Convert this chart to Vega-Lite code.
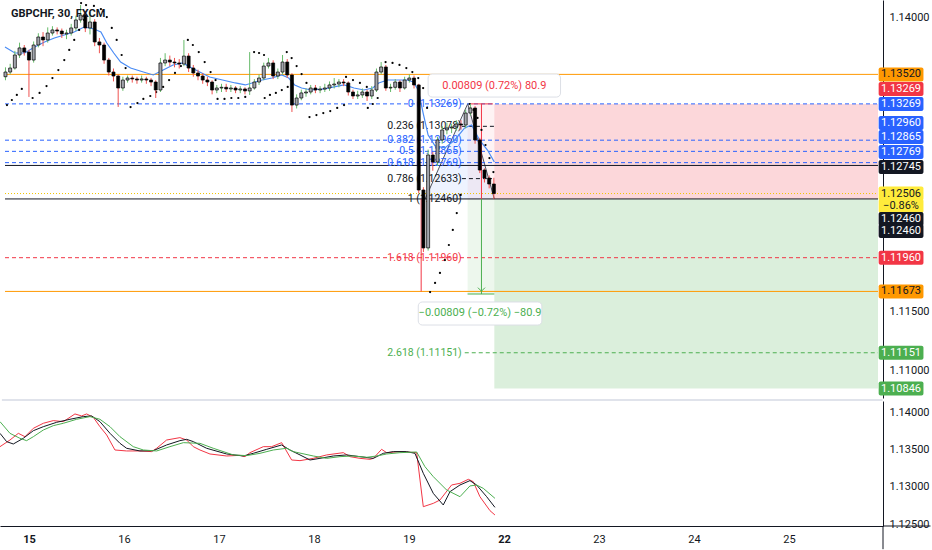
{
"$schema":"https://vega.github.io/schema/vega-lite/v6.json",
"padding":0,
"background":"white",
"bounds":"flush",
"spacing":3,
"config":{"view":{"stroke":null},"font":"Roboto",
 "axis":{"grid":false,"ticks":false,"labelFontSize":11,"labelColor":"#131722","domainColor":"#131722","labelFlush":false,"labelOverlap":false,"title":null},
 "axisY":{"labelPadding":6,"labelAlign":"left"},
 "axisX":{"labelPadding":7}},
"datasets":{
"candles":[
{"t":-0.30,"o":1.13500,"h":1.13580,"l":1.13470,"c":1.13540},
{"t":-0.25,"o":1.13540,"h":1.13610,"l":1.13520,"c":1.13574},
{"t":-0.20,"o":1.13574,"h":1.13720,"l":1.13560,"c":1.13685},
{"t":-0.15,"o":1.13685,"h":1.13790,"l":1.13660,"c":1.13745},
{"t":-0.10,"o":1.13745,"h":1.13770,"l":1.13680,"c":1.13710},
{"t":-0.05,"o":1.13710,"h":1.13730,"l":1.13328,"c":1.13642},
{"t":0.00,"o":1.13642,"h":1.13800,"l":1.13620,"c":1.13770},
{"t":0.05,"o":1.13770,"h":1.13870,"l":1.13750,"c":1.13838},
{"t":0.10,"o":1.13838,"h":1.13880,"l":1.13760,"c":1.13813},
{"t":0.15,"o":1.13813,"h":1.13920,"l":1.13790,"c":1.13872},
{"t":0.20,"o":1.13872,"h":1.13930,"l":1.13850,"c":1.13898},
{"t":0.25,"o":1.13898,"h":1.13920,"l":1.13860,"c":1.13889},
{"t":0.30,"o":1.13889,"h":1.13910,"l":1.13830,"c":1.13864},
{"t":0.35,"o":1.13864,"h":1.13900,"l":1.13820,"c":1.13872},
{"t":0.40,"o":1.13872,"h":1.13950,"l":1.13850,"c":1.13915},
{"t":0.45,"o":1.13915,"h":1.14020,"l":1.13890,"c":1.13983},
{"t":0.50,"o":1.13983,"h":1.14110,"l":1.13960,"c":1.14025},
{"t":0.55,"o":1.14025,"h":1.14060,"l":1.13880,"c":1.13915},
{"t":0.60,"o":1.13915,"h":1.14051,"l":1.13860,"c":1.13966},
{"t":0.65,"o":1.13966,"h":1.13990,"l":1.13760,"c":1.13796},
{"t":0.70,"o":1.13796,"h":1.13830,"l":1.13700,"c":1.13770},
{"t":0.75,"o":1.13770,"h":1.13790,"l":1.13610,"c":1.13642},
{"t":0.80,"o":1.13642,"h":1.13660,"l":1.13510,"c":1.13540},
{"t":0.85,"o":1.13540,"h":1.13570,"l":1.13460,"c":1.13506},
{"t":0.90,"o":1.13506,"h":1.13520,"l":1.13243,"c":1.13404},
{"t":0.95,"o":1.13404,"h":1.13500,"l":1.13380,"c":1.13472},
{"t":1.00,"o":1.13472,"h":1.13510,"l":1.13450,"c":1.13489},
{"t":1.05,"o":1.13489,"h":1.13510,"l":1.13450,"c":1.13481},
{"t":1.10,"o":1.13481,"h":1.13500,"l":1.13440,"c":1.13472},
{"t":1.15,"o":1.13472,"h":1.13510,"l":1.13450,"c":1.13481},
{"t":1.20,"o":1.13481,"h":1.13500,"l":1.13440,"c":1.13472},
{"t":1.25,"o":1.13472,"h":1.13490,"l":1.13420,"c":1.13455},
{"t":1.30,"o":1.13455,"h":1.13470,"l":1.13319,"c":1.13387},
{"t":1.35,"o":1.13387,"h":1.13660,"l":1.13370,"c":1.13617},
{"t":1.40,"o":1.13617,"h":1.13700,"l":1.13590,"c":1.13642},
{"t":1.45,"o":1.13642,"h":1.13680,"l":1.13590,"c":1.13625},
{"t":1.50,"o":1.13625,"h":1.13660,"l":1.13580,"c":1.13617},
{"t":1.55,"o":1.13617,"h":1.13650,"l":1.13570,"c":1.13608},
{"t":1.60,"o":1.13608,"h":1.13813,"l":1.13590,"c":1.13676},
{"t":1.65,"o":1.13676,"h":1.13700,"l":1.13540,"c":1.13574},
{"t":1.70,"o":1.13574,"h":1.13600,"l":1.13500,"c":1.13532},
{"t":1.75,"o":1.13532,"h":1.13560,"l":1.13470,"c":1.13506},
{"t":1.80,"o":1.13506,"h":1.13530,"l":1.13440,"c":1.13472},
{"t":1.85,"o":1.13472,"h":1.13500,"l":1.13420,"c":1.13455},
{"t":1.90,"o":1.13455,"h":1.13470,"l":1.13350,"c":1.13387},
{"t":1.95,"o":1.13387,"h":1.13430,"l":1.13360,"c":1.13404},
{"t":2.00,"o":1.13404,"h":1.13440,"l":1.13370,"c":1.13410},
{"t":2.05,"o":1.13410,"h":1.13440,"l":1.13370,"c":1.13396},
{"t":2.10,"o":1.13396,"h":1.13430,"l":1.13370,"c":1.13404},
{"t":2.15,"o":1.13404,"h":1.13420,"l":1.13360,"c":1.13387},
{"t":2.20,"o":1.13387,"h":1.13420,"l":1.13360,"c":1.13396},
{"t":2.25,"o":1.13396,"h":1.13410,"l":1.13350,"c":1.13379},
{"t":2.30,"o":1.13379,"h":1.13710,"l":1.13345,"c":1.13404},
{"t":2.35,"o":1.13404,"h":1.13480,"l":1.13390,"c":1.13455},
{"t":2.40,"o":1.13455,"h":1.13520,"l":1.13430,"c":1.13489},
{"t":2.45,"o":1.13489,"h":1.13620,"l":1.13470,"c":1.13591},
{"t":2.50,"o":1.13591,"h":1.13660,"l":1.13570,"c":1.13617},
{"t":2.55,"o":1.13617,"h":1.13640,"l":1.13480,"c":1.13506},
{"t":2.60,"o":1.13506,"h":1.13570,"l":1.13480,"c":1.13540},
{"t":2.65,"o":1.13540,"h":1.13685,"l":1.13520,"c":1.13625},
{"t":2.70,"o":1.13625,"h":1.13650,"l":1.13490,"c":1.13515},
{"t":2.75,"o":1.13515,"h":1.13530,"l":1.13200,"c":1.13259},
{"t":2.80,"o":1.13259,"h":1.13350,"l":1.13230,"c":1.13319},
{"t":2.85,"o":1.13319,"h":1.13390,"l":1.13300,"c":1.13362},
{"t":2.90,"o":1.13362,"h":1.13400,"l":1.13330,"c":1.13370},
{"t":2.95,"o":1.13370,"h":1.13430,"l":1.13350,"c":1.13404},
{"t":3.00,"o":1.13404,"h":1.13430,"l":1.13360,"c":1.13387},
{"t":3.05,"o":1.13387,"h":1.13420,"l":1.13360,"c":1.13395},
{"t":3.10,"o":1.13395,"h":1.13440,"l":1.13370,"c":1.13404},
{"t":3.15,"o":1.13404,"h":1.13460,"l":1.13380,"c":1.13430},
{"t":3.20,"o":1.13430,"h":1.13489,"l":1.13400,"c":1.13438},
{"t":3.25,"o":1.13438,"h":1.13480,"l":1.13410,"c":1.13455},
{"t":3.30,"o":1.13455,"h":1.13480,"l":1.13420,"c":1.13447},
{"t":3.35,"o":1.13447,"h":1.13460,"l":1.13340,"c":1.13370},
{"t":3.40,"o":1.13370,"h":1.13390,"l":1.13310,"c":1.13336},
{"t":3.45,"o":1.13336,"h":1.13380,"l":1.13310,"c":1.13345},
{"t":3.50,"o":1.13345,"h":1.13400,"l":1.13320,"c":1.13370},
{"t":3.55,"o":1.13370,"h":1.13390,"l":1.13294,"c":1.13336},
{"t":3.60,"o":1.13336,"h":1.13420,"l":1.13310,"c":1.13387},
{"t":3.65,"o":1.13387,"h":1.13570,"l":1.13370,"c":1.13540},
{"t":3.70,"o":1.13540,"h":1.13625,"l":1.13520,"c":1.13583},
{"t":3.75,"o":1.13583,"h":1.13600,"l":1.13380,"c":1.13404},
{"t":3.80,"o":1.13404,"h":1.13440,"l":1.13370,"c":1.13410},
{"t":3.85,"o":1.13410,"h":1.13480,"l":1.13390,"c":1.13455},
{"t":3.90,"o":1.13455,"h":1.13470,"l":1.13370,"c":1.13404},
{"t":3.95,"o":1.13404,"h":1.13500,"l":1.13390,"c":1.13472},
{"t":4.00,"o":1.13472,"h":1.13520,"l":1.13450,"c":1.13489},
{"t":4.05,"o":1.13489,"h":1.13510,"l":1.13400,"c":1.13430},
{"t":4.10,"o":1.13430,"h":1.13440,"l":1.12510,"c":1.12536},
{"t":4.15,"o":1.12536,"h":1.12560,"l":1.12008,"c":1.12043},
{"t":4.20,"o":1.12043,"h":1.12880,"l":1.12020,"c":1.12834},
{"t":4.25,"o":1.12834,"h":1.12860,"l":1.12700,"c":1.12774},
{"t":4.30,"o":1.12774,"h":1.12990,"l":1.12740,"c":1.12962},
{"t":4.35,"o":1.12962,"h":1.13080,"l":1.12930,"c":1.13047},
{"t":4.40,"o":1.13047,"h":1.13110,"l":1.13010,"c":1.13064},
{"t":4.45,"o":1.13064,"h":1.13100,"l":1.13020,"c":1.13072},
{"t":4.50,"o":1.13072,"h":1.13130,"l":1.13040,"c":1.13098},
{"t":4.55,"o":1.13098,"h":1.13130,"l":1.13050,"c":1.13089},
{"t":4.60,"o":1.13089,"h":1.13220,"l":1.13060,"c":1.13191},
{"t":4.65,"o":1.13191,"h":1.13269,"l":1.13170,"c":1.13234},
{"t":4.70,"o":1.13234,"h":1.13250,"l":1.12930,"c":1.12962},
{"t":4.75,"o":1.12962,"h":1.12980,"l":1.12680,"c":1.12706},
{"t":4.80,"o":1.12706,"h":1.12720,"l":1.12600,"c":1.12638},
{"t":4.85,"o":1.12638,"h":1.12660,"l":1.12550,"c":1.12587},
{"t":4.90,"o":1.12587,"h":1.12640,"l":1.12460,"c":1.12506}
],
"ma":[
{"t":-0.305,"p":1.13753},{"t":-0.20,"p":1.13702},{"t":-0.095,"p":1.13702},{"t":0.011,"p":1.13753},{"t":0.116,"p":1.13796},{"t":0.221,"p":1.13830},{"t":0.326,"p":1.13855},{"t":0.432,"p":1.13881},{"t":0.537,"p":1.13923},{"t":0.642,"p":1.13906},{"t":0.716,"p":1.13881},{"t":0.779,"p":1.13787},{"t":0.853,"p":1.13702},{"t":0.926,"p":1.13625},{"t":1.032,"p":1.13574},{"t":1.168,"p":1.13540},{"t":1.274,"p":1.13515},{"t":1.379,"p":1.13557},{"t":1.484,"p":1.13600},{"t":1.589,"p":1.13617},{"t":1.663,"p":1.13583},{"t":1.768,"p":1.13540},{"t":1.874,"p":1.13498},{"t":2.011,"p":1.13472},{"t":2.147,"p":1.13447},{"t":2.253,"p":1.13430},{"t":2.326,"p":1.13447},{"t":2.432,"p":1.13472},{"t":2.537,"p":1.13489},{"t":2.642,"p":1.13515},{"t":2.716,"p":1.13489},{"t":2.779,"p":1.13430},{"t":2.853,"p":1.13404},{"t":2.958,"p":1.13387},{"t":3.095,"p":1.13396},{"t":3.200,"p":1.13413},{"t":3.305,"p":1.13430},{"t":3.411,"p":1.13404},{"t":3.516,"p":1.13387},{"t":3.611,"p":1.13404},{"t":3.674,"p":1.13447},{"t":3.768,"p":1.13472},{"t":3.874,"p":1.13472},{"t":3.979,"p":1.13472},{"t":4.042,"p":1.13455},{"t":4.095,"p":1.13387},{"t":4.147,"p":1.13191},{"t":4.200,"p":1.13004},{"t":4.274,"p":1.12911},{"t":4.379,"p":1.12894},{"t":4.484,"p":1.12962},{"t":4.589,"p":1.13064},{"t":4.663,"p":1.13089},{"t":4.747,"p":1.12962},{"t":4.832,"p":1.12876},{"t":4.905,"p":1.12774}
],
"sar":[
{"t":-0.284,"p":1.13259},{"t":-0.232,"p":1.13302},{"t":-0.179,"p":1.13345},{"t":-0.126,"p":1.13396},
{"t":-0.011,"p":1.13319},{"t":0.063,"p":1.13362},{"t":0.137,"p":1.13421},{"t":0.200,"p":1.13489},{"t":0.263,"p":1.13557},{"t":0.326,"p":1.13642},{"t":0.379,"p":1.13728},{"t":0.432,"p":1.13813},{"t":0.484,"p":1.13898},{"t":0.537,"p":1.13983},
{"t":0.505,"p":1.14127},{"t":0.558,"p":1.14110},{"t":0.642,"p":1.14102},{"t":0.716,"p":1.14076},{"t":0.779,"p":1.14008},{"t":0.832,"p":1.13915},{"t":0.884,"p":1.13813},{"t":0.937,"p":1.13685},{"t":0.979,"p":1.13574},
{"t":1.032,"p":1.13242},{"t":1.105,"p":1.13276},{"t":1.168,"p":1.13311},{"t":1.242,"p":1.13336},{"t":1.305,"p":1.13370},{"t":1.379,"p":1.13413},{"t":1.442,"p":1.13472},{"t":1.505,"p":1.13532},{"t":1.568,"p":1.13591},
{"t":1.642,"p":1.13813},{"t":1.695,"p":1.13770},{"t":1.758,"p":1.13710},{"t":1.821,"p":1.13625},{"t":1.884,"p":1.13540},{"t":1.937,"p":1.13472},
{"t":1.958,"p":1.13311},{"t":2.032,"p":1.13311},{"t":2.105,"p":1.13319},{"t":2.179,"p":1.13319},{"t":2.253,"p":1.13328},
{"t":2.347,"p":1.13710},{"t":2.400,"p":1.13702},{"t":2.453,"p":1.13685},
{"t":2.460,"p":1.13319},{"t":2.516,"p":1.13345},{"t":2.579,"p":1.13362},{"t":2.642,"p":1.13387},{"t":2.705,"p":1.13413},
{"t":2.695,"p":1.13710},{"t":2.747,"p":1.13659},{"t":2.800,"p":1.13591},{"t":2.853,"p":1.13523},{"t":2.905,"p":1.13447},
{"t":2.937,"p":1.13157},{"t":3.011,"p":1.13174},{"t":3.084,"p":1.13191},{"t":3.158,"p":1.13208},{"t":3.232,"p":1.13234},{"t":3.305,"p":1.13259},
{"t":3.326,"p":1.13498},{"t":3.400,"p":1.13472},{"t":3.474,"p":1.13447},{"t":3.547,"p":1.13413},
{"t":3.558,"p":1.13234},{"t":3.611,"p":1.13268},{"t":3.663,"p":1.13319},
{"t":3.747,"p":1.13625},{"t":3.821,"p":1.13617},{"t":3.895,"p":1.13600},{"t":3.968,"p":1.13574},{"t":4.032,"p":1.13540},{"t":4.095,"p":1.13489},{"t":4.147,"p":1.13404},{"t":4.189,"p":1.13234},
{"t":4.221,"p":1.11668},{"t":4.274,"p":1.11745},{"t":4.326,"p":1.11830},{"t":4.379,"p":1.11940},{"t":4.421,"p":1.12068},{"t":4.463,"p":1.12196},{"t":4.505,"p":1.12340},{"t":4.547,"p":1.12494},
{"t":4.642,"p":1.13268},{"t":4.684,"p":1.13217},{"t":4.726,"p":1.13149},{"t":4.768,"p":1.13047},{"t":4.811,"p":1.12919},{"t":4.853,"p":1.12808},{"t":4.895,"p":1.12689}
],
"levels":[
{"p":1.13520,"t0":-0.305,"t1":8.99,"kind":"orange"},
{"p":1.11673,"t0":-0.305,"t1":8.99,"kind":"orange"},
{"p":1.12745,"t0":-0.305,"t1":8.99,"kind":"black"},
{"p":1.12460,"t0":-0.305,"t1":8.99,"kind":"black"},
{"p":1.13269,"t0":-0.305,"t1":8.99,"kind":"blue"},
{"p":1.12960,"t0":-0.305,"t1":8.99,"kind":"blue"},
{"p":1.12865,"t0":-0.305,"t1":8.99,"kind":"blue"},
{"p":1.12769,"t0":-0.305,"t1":8.99,"kind":"blue"},
{"p":1.11960,"t0":-0.305,"t1":8.99,"kind":"red"},
{"p":1.12506,"t0":-0.305,"t1":8.99,"kind":"yellow"},
{"p":1.11151,"t0":4.59,"t1":8.99,"kind":"green"},
{"p":1.13078,"t0":4.56,"t1":4.93,"kind":"fibk"},
{"p":1.12633,"t0":4.56,"t1":4.88,"kind":"fibk"}
],
"fibs":[
{"p":1.13269,"txt":"0 (1.13269)","kind":"blue"},
{"p":1.13078,"txt":"0.236 (1.13078)","kind":"black"},
{"p":1.12960,"txt":"0.382 (1.12960)","kind":"blue"},
{"p":1.12865,"txt":"0.5 (1.12865)","kind":"blue"},
{"p":1.12769,"txt":"0.618 (1.12769)","kind":"blue"},
{"p":1.12633,"txt":"0.786 (1.12633)","kind":"black"},
{"p":1.12460,"txt":"1 (1.12460)","kind":"black"},
{"p":1.11960,"txt":"1.618 (1.11960)","kind":"red"},
{"p":1.11151,"txt":"2.618 (1.11151)","kind":"green"}
],
"zones":[
{"t1":4.905,"t2":8.99,"p1":1.1246,"p2":1.13269,"kind":"loss"},
{"t1":4.905,"t2":8.99,"p1":1.10846,"p2":1.1246,"kind":"profit"},
{"t1":4.621,"t2":4.905,"p1":1.1246,"p2":1.13269,"kind":"mloss"},
{"t1":4.621,"t2":4.905,"p1":1.11651,"p2":1.1246,"kind":"mprofit"}
],
"pattern":[{"t":4.168,"p":1.1246},{"t":4.621,"p":1.13269},{"t":4.905,"p":1.1246}],
"measure":[
{"t0":4.768,"t1":4.768,"p0":1.1246,"p1":1.13269,"kind":"red"},
{"t0":4.768,"t1":4.768,"p0":1.11651,"p1":1.1246,"kind":"green"},
{"t0":4.126,"t1":4.126,"p0":1.11673,"p1":1.1246,"kind":"red"},
{"t0":4.64,"t1":4.89,"p0":1.13269,"p1":1.13269,"kind":"red"},
{"t0":4.62,"t1":4.905,"p0":1.11651,"p1":1.11651,"kind":"green"}
],
"notes":[
{"t1":4.2,"t2":5.61,"p1":1.13523,"p2":1.13327,"tx":4.905,"py":1.13421,"txt":"0.00809 (0.72%) 80.9","kind":"red"},
{"t1":4.095,"t2":5.411,"p1":1.11583,"p2":1.11387,"tx":4.753,"py":1.11489,"txt":"−0.00809 (−0.72%) −80.9","kind":"green"}
],
"tags":[
{"txt":"1.13520","at":1.13520,"kind":"orange"},
{"txt":"1.13269","at":1.13396,"kind":"red"},
{"txt":"1.13269","at":1.13269,"kind":"blue"},
{"txt":"1.12960","at":1.13106,"kind":"blue"},
{"txt":"1.12865","at":1.12987,"kind":"blue"},
{"txt":"1.12769","at":1.12859,"kind":"blue"},
{"txt":"1.12745","at":1.12732,"kind":"black"},
{"txt":"1.12506","at":1.12506,"kind":"yellow"},
{"txt":"−0.86%","at":1.12400,"kind":"yellow"},
{"txt":"1.12460","at":1.12289,"kind":"black"},
{"txt":"1.12460","at":1.12187,"kind":"black"},
{"txt":"1.11960","at":1.11960,"kind":"red"},
{"txt":"1.11673","at":1.11673,"kind":"orange"},
{"txt":"1.11151","at":1.11151,"kind":"green"},
{"txt":"1.10846","at":1.10846,"kind":"green"}
],
"title":[{"txt":"GBPCHF, 30, FXCM"}],
"one":[{"a":0}],
"osc":[
{"t":-0.305,"v":1.13545,"s":"fast"},{"t":-0.200,"v":1.13635,"s":"fast"},{"t":-0.112,"v":1.13725,"s":"fast"},{"t":-0.042,"v":1.13680,"s":"fast"},{"t":0.046,"v":1.13793,"s":"fast"},{"t":0.151,"v":1.13861,"s":"fast"},{"t":0.256,"v":1.13897,"s":"fast"},{"t":0.362,"v":1.13883,"s":"fast"},{"t":0.484,"v":1.13987,"s":"fast"},{"t":0.554,"v":1.13960,"s":"fast"},{"t":0.607,"v":1.13987,"s":"fast"},{"t":0.677,"v":1.13942,"s":"fast"},{"t":0.747,"v":1.13815,"s":"fast"},{"t":0.818,"v":1.13703,"s":"fast"},{"t":0.905,"v":1.13500,"s":"fast"},{"t":1.028,"v":1.13487,"s":"fast"},{"t":1.168,"v":1.13487,"s":"fast"},{"t":1.291,"v":1.13478,"s":"fast"},{"t":1.344,"v":1.13523,"s":"fast"},{"t":1.449,"v":1.13635,"s":"fast"},{"t":1.589,"v":1.13667,"s":"fast"},{"t":1.660,"v":1.13635,"s":"fast"},{"t":1.730,"v":1.13545,"s":"fast"},{"t":1.800,"v":1.13500,"s":"fast"},{"t":1.905,"v":1.13446,"s":"fast"},{"t":2.081,"v":1.13419,"s":"fast"},{"t":2.221,"v":1.13428,"s":"fast"},{"t":2.274,"v":1.13410,"s":"fast"},{"t":2.326,"v":1.13464,"s":"fast"},{"t":2.467,"v":1.13545,"s":"fast"},{"t":2.554,"v":1.13545,"s":"fast"},{"t":2.660,"v":1.13599,"s":"fast"},{"t":2.765,"v":1.13365,"s":"fast"},{"t":2.853,"v":1.13356,"s":"fast"},{"t":2.993,"v":1.13387,"s":"fast"},{"t":3.133,"v":1.13433,"s":"fast"},{"t":3.309,"v":1.13464,"s":"fast"},{"t":3.379,"v":1.13410,"s":"fast"},{"t":3.484,"v":1.13387,"s":"fast"},{"t":3.590,"v":1.13374,"s":"fast"},{"t":3.625,"v":1.13387,"s":"fast"},{"t":3.712,"v":1.13509,"s":"fast"},{"t":3.765,"v":1.13464,"s":"fast"},{"t":3.905,"v":1.13478,"s":"fast"},{"t":4.081,"v":1.13464,"s":"fast"},{"t":4.151,"v":1.12734,"s":"fast"},{"t":4.256,"v":1.12779,"s":"fast"},{"t":4.326,"v":1.12824,"s":"fast"},{"t":4.449,"v":1.13027,"s":"fast"},{"t":4.537,"v":1.13050,"s":"fast"},{"t":4.625,"v":1.13104,"s":"fast"},{"t":4.677,"v":1.13072,"s":"fast"},{"t":4.747,"v":1.12869,"s":"fast"},{"t":4.853,"v":1.12680,"s":"fast"},{"t":4.905,"v":1.12622,"s":"fast"},
{"t":-0.305,"v":1.13725,"s":"mid"},{"t":-0.235,"v":1.13613,"s":"mid"},{"t":-0.165,"v":1.13581,"s":"mid"},{"t":-0.060,"v":1.13658,"s":"mid"},{"t":0.046,"v":1.13761,"s":"mid"},{"t":0.151,"v":1.13815,"s":"mid"},{"t":0.291,"v":1.13874,"s":"mid"},{"t":0.432,"v":1.13915,"s":"mid"},{"t":0.572,"v":1.13951,"s":"mid"},{"t":0.660,"v":1.13960,"s":"mid"},{"t":0.747,"v":1.13883,"s":"mid"},{"t":0.853,"v":1.13725,"s":"mid"},{"t":0.958,"v":1.13590,"s":"mid"},{"t":1.028,"v":1.13523,"s":"mid"},{"t":1.168,"v":1.13487,"s":"mid"},{"t":1.309,"v":1.13491,"s":"mid"},{"t":1.449,"v":1.13568,"s":"mid"},{"t":1.589,"v":1.13626,"s":"mid"},{"t":1.660,"v":1.13644,"s":"mid"},{"t":1.730,"v":1.13613,"s":"mid"},{"t":1.870,"v":1.13523,"s":"mid"},{"t":2.081,"v":1.13446,"s":"mid"},{"t":2.256,"v":1.13419,"s":"mid"},{"t":2.361,"v":1.13455,"s":"mid"},{"t":2.502,"v":1.13509,"s":"mid"},{"t":2.660,"v":1.13568,"s":"mid"},{"t":2.747,"v":1.13500,"s":"mid"},{"t":2.853,"v":1.13433,"s":"mid"},{"t":2.958,"v":1.13365,"s":"mid"},{"t":3.063,"v":1.13387,"s":"mid"},{"t":3.204,"v":1.13419,"s":"mid"},{"t":3.344,"v":1.13433,"s":"mid"},{"t":3.484,"v":1.13410,"s":"mid"},{"t":3.625,"v":1.13387,"s":"mid"},{"t":3.730,"v":1.13455,"s":"mid"},{"t":3.835,"v":1.13478,"s":"mid"},{"t":3.975,"v":1.13478,"s":"mid"},{"t":4.063,"v":1.13455,"s":"mid"},{"t":4.151,"v":1.13185,"s":"mid"},{"t":4.256,"v":1.12914,"s":"mid"},{"t":4.361,"v":1.12757,"s":"mid"},{"t":4.432,"v":1.12937,"s":"mid"},{"t":4.537,"v":1.13027,"s":"mid"},{"t":4.642,"v":1.13086,"s":"mid"},{"t":4.712,"v":1.13027,"s":"mid"},{"t":4.818,"v":1.12869,"s":"mid"},{"t":4.905,"v":1.12725,"s":"mid"},
{"t":-0.305,"v":1.13883,"s":"slow"},{"t":-0.200,"v":1.13725,"s":"slow"},{"t":-0.095,"v":1.13658,"s":"slow"},{"t":-0.025,"v":1.13626,"s":"slow"},{"t":0.046,"v":1.13680,"s":"slow"},{"t":0.151,"v":1.13770,"s":"slow"},{"t":0.256,"v":1.13829,"s":"slow"},{"t":0.362,"v":1.13861,"s":"slow"},{"t":0.502,"v":1.13915,"s":"slow"},{"t":0.642,"v":1.13951,"s":"slow"},{"t":0.747,"v":1.13915,"s":"slow"},{"t":0.853,"v":1.13815,"s":"slow"},{"t":0.958,"v":1.13680,"s":"slow"},{"t":1.098,"v":1.13545,"s":"slow"},{"t":1.204,"v":1.13500,"s":"slow"},{"t":1.344,"v":1.13487,"s":"slow"},{"t":1.484,"v":1.13545,"s":"slow"},{"t":1.625,"v":1.13599,"s":"slow"},{"t":1.800,"v":1.13590,"s":"slow"},{"t":1.940,"v":1.13523,"s":"slow"},{"t":2.151,"v":1.13433,"s":"slow"},{"t":2.291,"v":1.13424,"s":"slow"},{"t":2.432,"v":1.13455,"s":"slow"},{"t":2.572,"v":1.13500,"s":"slow"},{"t":2.712,"v":1.13523,"s":"slow"},{"t":2.782,"v":1.13478,"s":"slow"},{"t":2.993,"v":1.13419,"s":"slow"},{"t":3.133,"v":1.13387,"s":"slow"},{"t":3.274,"v":1.13410,"s":"slow"},{"t":3.414,"v":1.13419,"s":"slow"},{"t":3.554,"v":1.13401,"s":"slow"},{"t":3.660,"v":1.13419,"s":"slow"},{"t":3.765,"v":1.13446,"s":"slow"},{"t":3.905,"v":1.13464,"s":"slow"},{"t":4.081,"v":1.13473,"s":"slow"},{"t":4.168,"v":1.13275,"s":"slow"},{"t":4.256,"v":1.13140,"s":"slow"},{"t":4.396,"v":1.12960,"s":"slow"},{"t":4.537,"v":1.12869,"s":"slow"},{"t":4.642,"v":1.13014,"s":"slow"},{"t":4.712,"v":1.13027,"s":"slow"},{"t":4.782,"v":1.12982,"s":"slow"},{"t":4.905,"v":1.12847,"s":"slow"}
]
},
"vconcat":[
{
"width":883,"height":398,
"resolve":{"scale":{"color":"independent","strokeDash":"independent"}},
"layer":[
{"data":{"name":"zones"},"mark":{"type":"rect","clip":true},
 "encoding":{
  "x":{"field":"t1","type":"quantitative","scale":{"domain":[-0.305,8.99],"nice":false,"zero":false},"axis":null},
  "x2":{"field":"t2"},
  "y":{"field":"p1","type":"quantitative","scale":{"domain":[1.10766,1.14153],"nice":false,"zero":false},"axis":{"orient":"right","values":[1.14,1.115,1.11],"format":".5f"}},
  "y2":{"field":"p2"},
  "color":{"field":"kind","type":"nominal","legend":null,"scale":{"domain":["loss","profit","mloss","mprofit"],"range":["rgba(242,54,69,0.2)","rgba(76,175,80,0.2)","rgba(242,54,69,0.06)","rgba(76,175,80,0.1)"]}}
 }},
{"data":{"name":"pattern"},"mark":{"type":"area","color":"rgba(41,98,255,0.08)","clip":true},
 "encoding":{
  "x":{"field":"t","type":"quantitative","scale":{"domain":[-0.305,8.99],"nice":false,"zero":false},"axis":null},
  "y":{"field":"p","type":"quantitative","scale":{"domain":[1.10766,1.14153],"nice":false,"zero":false},"axis":{"orient":"right","values":[1.14,1.115,1.11],"format":".5f"}},
  "y2":{"datum":1.1246}
 }},
{"data":{"name":"pattern"},"mark":{"type":"line","color":"#50535e","strokeWidth":1,"clip":true},
 "encoding":{
  "x":{"field":"t","type":"quantitative","scale":{"domain":[-0.305,8.99],"nice":false,"zero":false},"axis":null},
  "y":{"field":"p","type":"quantitative","scale":{"domain":[1.10766,1.14153],"nice":false,"zero":false},"axis":{"orient":"right","values":[1.14,1.115,1.11],"format":".5f"}}
 }},
{"data":{"name":"levels"},"mark":{"type":"rule","clip":true,"strokeWidth":1},
 "encoding":{
  "x":{"field":"t0","type":"quantitative","scale":{"domain":[-0.305,8.99],"nice":false,"zero":false},"axis":null},
  "x2":{"field":"t1"},
  "y":{"field":"p","type":"quantitative","scale":{"domain":[1.10766,1.14153],"nice":false,"zero":false},"axis":{"orient":"right","values":[1.14,1.115,1.11],"format":".5f"}},
  "color":{"field":"kind","type":"nominal","legend":null,"scale":{"domain":["orange","black","blue","red","yellow","green","fibk"],"range":["#ff9800","#131722","#2962ff","#f23645","#f2c500","#4caf50","#131722"]}},
  "strokeDash":{"field":"kind","type":"nominal","legend":null,"scale":{"domain":["orange","black","blue","red","yellow","green","fibk"],"range":[[1,0],[1,0],[4,3],[4,3],[1,2],[4,3],[4,3]]}}
 }},
{"data":{"name":"fibs"},"mark":{"type":"text","align":"right","baseline":"middle","fontSize":10.5},
 "encoding":{
  "x":{"datum":4.558,"type":"quantitative","scale":{"domain":[-0.305,8.99],"nice":false,"zero":false},"axis":null},
  "y":{"field":"p","type":"quantitative","scale":{"domain":[1.10766,1.14153],"nice":false,"zero":false},"axis":{"orient":"right","values":[1.14,1.115,1.11],"format":".5f"}},
  "text":{"field":"txt"},
  "color":{"field":"kind","type":"nominal","legend":null,"scale":{"domain":["blue","black","red","green"],"range":["#2962ff","#131722","#f23645","#4caf50"]}}
 }},
{"data":{"name":"measure"},"mark":{"type":"rule","clip":true,"strokeWidth":1},
 "encoding":{
  "x":{"field":"t0","type":"quantitative","scale":{"domain":[-0.305,8.99],"nice":false,"zero":false},"axis":null},
  "x2":{"field":"t1"},
  "y":{"field":"p0","type":"quantitative","scale":{"domain":[1.10766,1.14153],"nice":false,"zero":false},"axis":{"orient":"right","values":[1.14,1.115,1.11],"format":".5f"}},
  "y2":{"field":"p1"},
  "color":{"field":"kind","type":"nominal","legend":null,"scale":{"domain":["red","green"],"range":["#f23645","#4caf50"]}}
 }},
{"data":{"values":[{"t":4.768,"p":1.11690}]},"mark":{"type":"point","shape":"M-1,-0.5L0,0.5L1,-0.5","size":50,"filled":false,"stroke":"#4caf50","strokeWidth":1,"opacity":1},
 "encoding":{
  "x":{"field":"t","type":"quantitative","scale":{"domain":[-0.305,8.99],"nice":false,"zero":false},"axis":null},
  "y":{"field":"p","type":"quantitative","scale":{"domain":[1.10766,1.14153],"nice":false,"zero":false},"axis":{"orient":"right","values":[1.14,1.115,1.11],"format":".5f"}}
 }},
{"data":{"name":"ma"},"mark":{"type":"line","color":"#4a8cf5","strokeWidth":1.2,"clip":true},
 "encoding":{
  "x":{"field":"t","type":"quantitative","scale":{"domain":[-0.305,8.99],"nice":false,"zero":false},"axis":null},
  "y":{"field":"p","type":"quantitative","scale":{"domain":[1.10766,1.14153],"nice":false,"zero":false},"axis":{"orient":"right","values":[1.14,1.115,1.11],"format":".5f"}}
 }},
{"data":{"name":"sar"},"mark":{"type":"circle","size":5,"color":"#000000","opacity":1,"clip":true},
 "encoding":{
  "x":{"field":"t","type":"quantitative","scale":{"domain":[-0.305,8.99],"nice":false,"zero":false},"axis":null},
  "y":{"field":"p","type":"quantitative","scale":{"domain":[1.10766,1.14153],"nice":false,"zero":false},"axis":{"orient":"right","values":[1.14,1.115,1.11],"format":".5f"}}
 }},
{"data":{"name":"candles"},"mark":{"type":"rule","strokeWidth":1,"clip":true},
 "encoding":{
  "x":{"field":"t","type":"quantitative","scale":{"domain":[-0.305,8.99],"nice":false,"zero":false},"axis":null},
  "y":{"field":"l","type":"quantitative","scale":{"domain":[1.10766,1.14153],"nice":false,"zero":false},"axis":{"orient":"right","values":[1.14,1.115,1.11],"format":".5f"}},
  "y2":{"field":"h"},
  "color":{"condition":{"test":"datum.c >= datum.o","value":"#66bb6a"},"value":"#ef5350"}
 }},
{"data":{"name":"candles"},"mark":{"type":"bar","width":3,"stroke":"#000000","strokeWidth":0.7,"clip":true},
 "encoding":{
  "x":{"field":"t","type":"quantitative","scale":{"domain":[-0.305,8.99],"nice":false,"zero":false},"axis":null},
  "y":{"field":"o","type":"quantitative","scale":{"domain":[1.10766,1.14153],"nice":false,"zero":false},"axis":{"orient":"right","values":[1.14,1.115,1.11],"format":".5f"}},
  "y2":{"field":"c"},
  "color":{"condition":{"test":"datum.c >= datum.o","value":"#a3a6ad"},"value":"#000000"}
 }},
{"data":{"name":"notes"},"mark":{"type":"rect","fill":"#ffffff","stroke":"#dcdfe6","strokeWidth":1,"cornerRadius":4},
 "encoding":{
  "x":{"field":"t1","type":"quantitative","scale":{"domain":[-0.305,8.99],"nice":false,"zero":false},"axis":null},
  "x2":{"field":"t2"},
  "y":{"field":"p1","type":"quantitative","scale":{"domain":[1.10766,1.14153],"nice":false,"zero":false},"axis":{"orient":"right","values":[1.14,1.115,1.11],"format":".5f"}},
  "y2":{"field":"p2"}
 }},
{"data":{"name":"notes"},"mark":{"type":"text","align":"center","baseline":"middle","fontSize":11},
 "encoding":{
  "x":{"field":"tx","type":"quantitative","scale":{"domain":[-0.305,8.99],"nice":false,"zero":false},"axis":null},
  "y":{"field":"py","type":"quantitative","scale":{"domain":[1.10766,1.14153],"nice":false,"zero":false},"axis":{"orient":"right","values":[1.14,1.115,1.11],"format":".5f"}},
  "text":{"field":"txt"},
  "color":{"field":"kind","type":"nominal","legend":null,"scale":{"domain":["red","green"],"range":["#f23645","#4caf50"]}}
 }},
{"data":{"name":"title"},"mark":{"type":"text","align":"left","baseline":"middle","fontSize":11,"fontWeight":"bold","color":"#131722"},
 "encoding":{
  "x":{"datum":-0.242,"type":"quantitative","scale":{"domain":[-0.305,8.99],"nice":false,"zero":false},"axis":null},
  "y":{"datum":1.14034,"type":"quantitative","scale":{"domain":[1.10766,1.14153],"nice":false,"zero":false},"axis":{"orient":"right","values":[1.14,1.115,1.11],"format":".5f"}},
  "text":{"field":"txt"}
 }},
{"data":{"name":"tags"},"mark":{"type":"rect","yOffset":-7,"y2Offset":7,"cornerRadius":2},
 "encoding":{
  "x":{"datum":8.997,"type":"quantitative","scale":{"domain":[-0.305,8.99],"nice":false,"zero":false},"axis":null},
  "x2":{"datum":9.474},
  "y":{"field":"at","type":"quantitative","scale":{"domain":[1.10766,1.14153],"nice":false,"zero":false},"axis":{"orient":"right","values":[1.14,1.115,1.11],"format":".5f"}},
  "y2":{"field":"at"},
  "color":{"field":"kind","type":"nominal","legend":null,"scale":{"domain":["orange","red","blue","black","yellow","green"],"range":["#ff9800","#f23645","#2962ff","#131722","#ffeb3b","#4caf50"]}}
 }},
{"data":{"name":"tags"},"mark":{"type":"text","align":"center","baseline":"middle","fontSize":11},
 "encoding":{
  "x":{"datum":9.235,"type":"quantitative","scale":{"domain":[-0.305,8.99],"nice":false,"zero":false},"axis":null},
  "y":{"field":"at","type":"quantitative","scale":{"domain":[1.10766,1.14153],"nice":false,"zero":false},"axis":{"orient":"right","values":[1.14,1.115,1.11],"format":".5f"}},
  "text":{"field":"txt"},
  "color":{"condition":{"test":"datum.kind == 'orange' || datum.kind == 'yellow'","value":"#131722"},"value":"#ffffff"}
 }}
]
},
{
"width":883,"height":125,
"layer":[
{"data":{"name":"osc"},"mark":{"type":"line","strokeWidth":1,"clip":true},
 "encoding":{
  "x":{"field":"t","type":"quantitative","scale":{"domain":[-0.305,8.99],"nice":false,"zero":false},"axis":{"orient":"bottom","values":[0,1,2,3,4,5,6,7,8],"labelExpr":"['15','16','17','18','19','22','23','24','25'][datum.value]","labelFontWeight":{"condition":{"test":"datum.value == 0 || datum.value == 5","value":"bold"},"value":"normal"}}},
  "y":{"field":"v","type":"quantitative","scale":{"domain":[1.12473,1.14162],"nice":false,"zero":false},"axis":{"orient":"right","values":[1.14,1.135,1.13,1.125],"format":".5f"}},
  "color":{"field":"s","type":"nominal","legend":null,"scale":{"domain":["fast","mid","slow"],"range":["#f23645","#131722","#4caf50"]}}
 }},
{"data":{"name":"one"},"mark":{"type":"rule","color":"#e0e3eb","strokeWidth":2},
 "encoding":{
  "x":{"datum":-0.285,"type":"quantitative","scale":{"domain":[-0.305,8.99],"nice":false,"zero":false},"axis":{"orient":"bottom","values":[0,1,2,3,4,5,6,7,8],"labelExpr":"['15','16','17','18','19','22','23','24','25'][datum.value]","labelFontWeight":{"condition":{"test":"datum.value == 0 || datum.value == 5","value":"bold"},"value":"normal"}}},
  "x2":{"datum":8.985},
  "y":{"datum":1.14176,"type":"quantitative","scale":{"domain":[1.12473,1.14162],"nice":false,"zero":false},"axis":{"orient":"right","values":[1.14,1.135,1.13,1.125],"format":".5f"}}
 }},
{"data":{"name":"one"},"mark":{"type":"rule","color":"#131722","strokeWidth":1},
 "encoding":{
  "x":{"datum":8.99,"type":"quantitative","scale":{"domain":[-0.305,8.99],"nice":false,"zero":false},"axis":{"orient":"bottom","values":[0,1,2,3,4,5,6,7,8],"labelExpr":"['15','16','17','18','19','22','23','24','25'][datum.value]","labelFontWeight":{"condition":{"test":"datum.value == 0 || datum.value == 5","value":"bold"},"value":"normal"}}},
  "x2":{"datum":9.49},
  "y":{"datum":1.12473,"type":"quantitative","scale":{"domain":[1.12473,1.14162],"nice":false,"zero":false},"axis":{"orient":"right","values":[1.14,1.135,1.13,1.125],"format":".5f"}}
 }},
{"data":{"name":"one"},"mark":{"type":"rule","color":"#131722","strokeWidth":1},
 "encoding":{
  "x":{"datum":8.99,"type":"quantitative","scale":{"domain":[-0.305,8.99],"nice":false,"zero":false},"axis":{"orient":"bottom","values":[0,1,2,3,4,5,6,7,8],"labelExpr":"['15','16','17','18','19','22','23','24','25'][datum.value]","labelFontWeight":{"condition":{"test":"datum.value == 0 || datum.value == 5","value":"bold"},"value":"normal"}}},
  "y":{"datum":1.12473,"type":"quantitative","scale":{"domain":[1.12473,1.14162],"nice":false,"zero":false},"axis":{"orient":"right","values":[1.14,1.135,1.13,1.125],"format":".5f"}},
  "y2":{"datum":1.1216}
 }}
]
}
]
}
